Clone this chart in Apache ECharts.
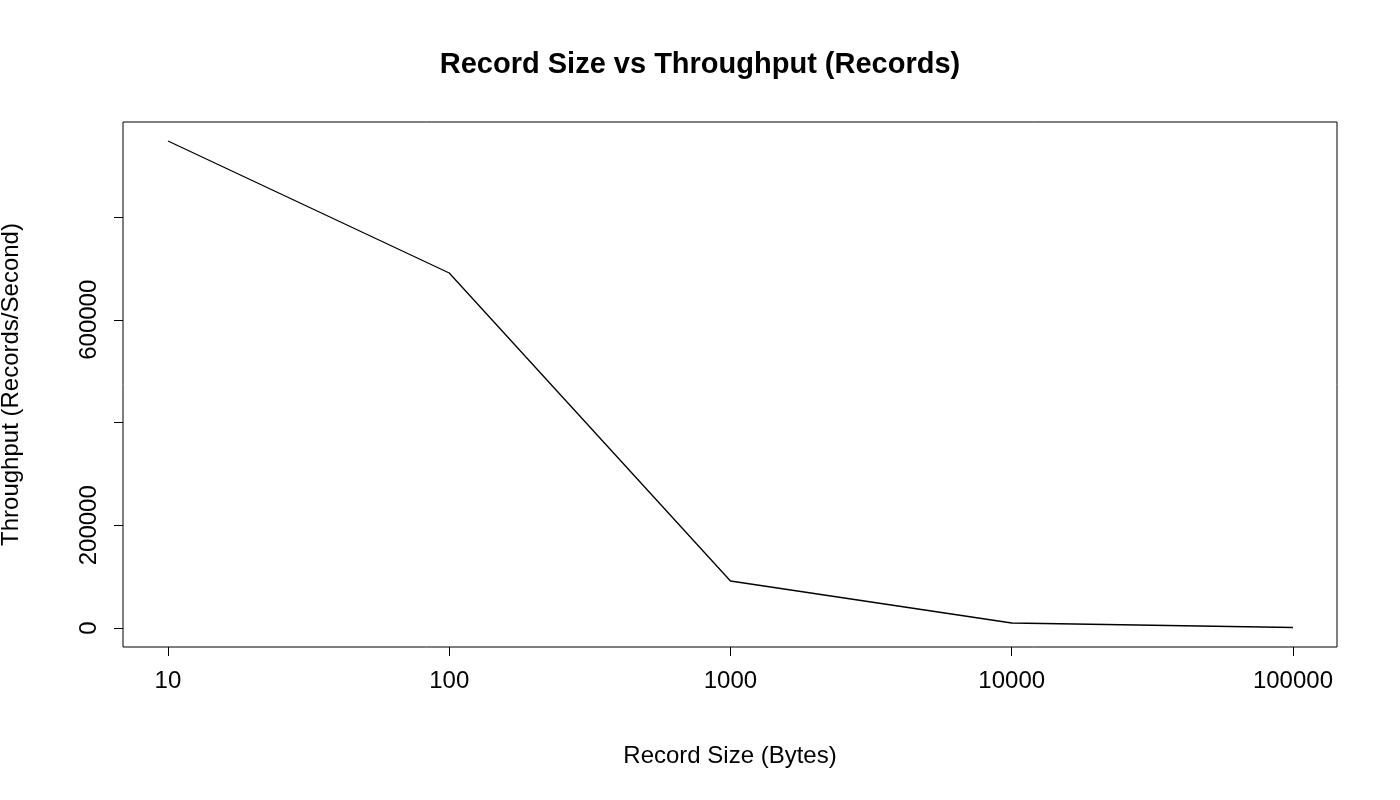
<!DOCTYPE html>
<html>
<head>
<meta charset="utf-8">
<script src="https://cdn.jsdelivr.net/npm/echarts@6/dist/echarts.min.js"></script>
<style>html,body{margin:0;background:#fff}#c{width:1400px;height:800px}</style>
</head>
<body>
<div id="c"></div>
<script>
// 数据
var recordSizes = [10, 100, 1000, 10000, 100000]
var throughput = [948000, 691000, 91500, 9700, 1000]
var yTicks = [0, 200000, 400000, 600000, 800000]
var yLabels = [0, 200000, 600000]

var font = 'Liberation Sans, Arial, sans-serif'
var pts = recordSizes.map(function (s, i) { return [s, throughput[i]] })
var plain = function (v) { return String(Math.round(v)) }

var option = {
  animation: false,
  backgroundColor: '#fff',
  title: {
    text: 'Record Size vs Throughput (Records)',
    left: 'center',
    top: 45,
    textStyle: { fontFamily: font, fontSize: 29, fontWeight: 'bold', color: '#000' }
  },
  grid: { left: 123, right: 63, top: 122, bottom: 153, containLabel: false, outerBoundsMode: 'none', show: true, borderColor: '#000', borderWidth: 1 },
  xAxis: {
    type: 'log',
    logBase: 10,
    min: 6.92,
    max: 143400,
    name: 'Record Size (Bytes)',
    nameLocation: 'middle',
    nameGap: 97,
    nameTextStyle: { fontFamily: font, fontSize: 24, color: '#000' },
    axisLine: { show: false, onZero: false },
    axisTick: { show: true, length: 9, lineStyle: { color: '#000' }, customValues: recordSizes },
    axisLabel: { fontFamily: font, fontSize: 24, color: '#000', margin: 22, formatter: plain, customValues: recordSizes },
    splitLine: { show: false }
  },
  yAxis: {
    type: 'value',
    min: -37000,
    max: 985000,
    name: 'Throughput (Records/Second)',
    nameLocation: 'middle',
    nameGap: 100,
    nameTextStyle: { fontFamily: font, fontSize: 24, color: '#000' },
    axisLine: { show: false, onZero: false },
    axisTick: { show: true, length: 9, lineStyle: { color: '#000' }, customValues: yTicks },
    axisLabel: { fontFamily: font, fontSize: 24, color: '#000', rotate: 90, margin: 22, formatter: plain, customValues: yLabels },
    splitLine: { show: false }
  },
  series: [{
    type: 'line',
    data: pts,
    symbol: 'none',
    lineStyle: { color: '#000', width: 1.3 }
  }]
}

var chart = echarts.init(document.getElementById('c'))
chart.setOption(option, true)
</script>
</body>
</html>
